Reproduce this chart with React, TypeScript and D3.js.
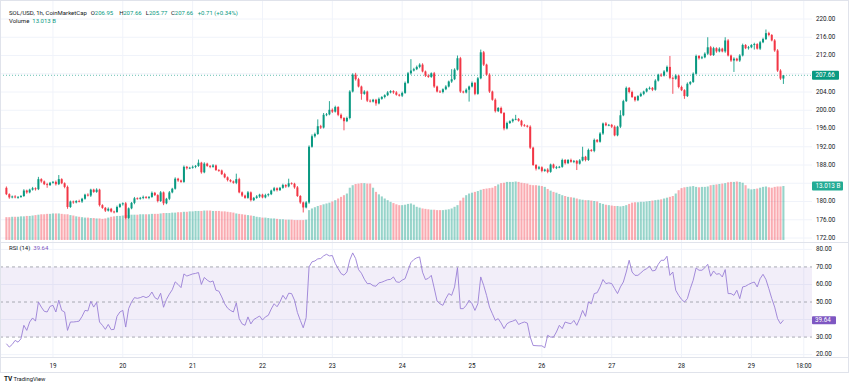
import React from 'react';
import * as d3 from 'd3';

// SOL/USD 1h candles, 18th 08:00 -> 29th 11:00
const firstOpen = 183.0;

const closes = [
  181.6, 180.9, 181.1, 180.9, 181.0, 181.2, 182.4, 182.0, 182.6, 182.9, 182.7, 184.9,
  184.4, 183.8, 183.6, 184.1, 184.3, 183.8, 184.9, 184.0, 183.2, 178.8, 180.0, 179.8,
  180.1, 180.0, 180.6, 181.5, 181.3, 182.6, 182.1, 182.6, 179.2, 178.6, 178.0, 178.4,
  177.8, 177.7, 178.8, 179.4, 179.6, 176.4, 178.5, 179.7, 180.7, 180.6, 180.8, 181.0,
  180.8, 181.0, 181.9, 181.4, 180.1, 182.0, 179.6, 180.6, 182.0, 182.8, 185.0, 184.6,
  184.3, 187.6, 187.3, 187.4, 187.6, 187.8, 188.5, 186.4, 188.3, 187.8, 187.6, 187.9,
  186.9, 186.8, 186.0, 185.3, 184.7, 184.4, 184.1, 184.9, 182.0, 181.3, 180.8, 182.0,
  180.3, 180.8, 181.1, 181.5, 180.9, 181.4, 181.6, 182.4, 182.9, 182.5, 183.0, 183.6,
  183.3, 184.0, 183.9, 183.1, 181.2, 179.8, 178.7, 179.8, 192.0, 194.3, 194.8, 196.5,
  196.2, 199.0, 199.1, 200.1, 199.7, 200.7, 199.0, 198.3, 197.6, 198.3, 204.1, 207.8,
  206.8, 205.2, 203.6, 204.1, 202.1, 201.9, 202.3, 201.5, 202.5, 202.9, 203.3, 203.9,
  204.2, 203.9, 203.4, 203.2, 203.8, 206.0, 208.1, 208.7, 209.0, 209.5, 210.0, 208.5,
  207.6, 207.3, 208.1, 205.2, 204.1, 204.0, 204.6, 205.2, 206.3, 206.8, 208.9, 211.4,
  204.1, 203.9, 204.5, 205.2, 206.0, 203.6, 207.0, 212.7, 210.0, 207.8, 204.1, 202.3,
  199.8, 200.5, 199.4, 196.0, 197.2, 197.6, 198.0, 198.1, 197.7, 196.7, 196.6, 196.4,
  191.8, 188.0, 187.2, 187.5, 186.7, 187.0, 186.5, 188.1, 187.4, 187.5, 187.6, 189.1,
  188.4, 189.1, 188.7, 188.9, 188.3, 189.0, 189.8, 189.1, 191.3, 191.1, 193.5, 193.1,
  194.9, 197.1, 196.7, 196.8, 196.4, 194.5, 196.4, 198.9, 202.0, 204.9, 204.0, 202.9,
  202.2, 203.1, 203.6, 204.1, 204.7, 204.9, 204.5, 206.5, 207.8, 207.6, 208.5, 209.5,
  207.1, 206.9, 207.6, 205.1, 204.4, 203.1, 205.8, 206.2, 208.0, 211.9, 211.4, 211.6,
  212.4, 213.8, 212.1, 213.6, 212.9, 213.5, 212.9, 215.3, 212.0, 210.9, 211.3, 210.9,
  212.0, 214.3, 213.6, 213.8, 214.3, 214.5, 213.5, 214.9, 215.6, 216.9, 216.5, 215.3,
  213.1, 208.7, 206.95, 207.66
];

// wick length above / below the body
const wickUp = [
  0.3, 0.2, 0.2, 0.3, 0.2, 0.2, 0.3, 0.2, 0.2, 0.3, 0.2, 0.5,
  0.2, 0.2, 0.3, 0.2, 0.2, 0.3, 0.9, 0.2, 0.2, 0.3, 0.2, 0.2,
  0.2, 0.3, 0.2, 0.2, 0.3, 0.2, 0.2, 0.3, 0.2, 0.2, 0.2, 0.3,
  0.2, 0.2, 0.3, 0.2, 0.2, 0.3, 0.2, 0.2, 0.3, 0.2, 0.2, 0.3,
  0.2, 0.2, 0.3, 0.2, 0.2, 0.3, 0.2, 0.2, 0.3, 0.2, 0.3, 0.2,
  0.2, 0.3, 0.2, 0.2, 0.3, 0.2, 0.7, 0.2, 0.3, 0.2, 0.2, 0.3,
  0.2, 0.2, 0.2, 0.3, 0.2, 0.2, 0.2, 1.2, 0.3, 0.2, 0.2, 0.3,
  0.2, 0.2, 0.3, 0.2, 0.2, 0.3, 0.2, 0.2, 0.3, 0.2, 0.2, 0.3,
  0.2, 1.0, 0.2, 0.2, 0.3, 0.2, 0.2, 0.3, 0.3, 0.4, 0.3, 1.5,
  0.3, 0.4, 0.3, 1.9, 0.3, 0.3, 0.2, 0.3, 0.2, 0.3, 0.3, 0.3,
  0.4, 0.3, 0.2, 0.3, 0.2, 0.3, 0.2, 0.2, 0.3, 0.2, 0.2, 0.3,
  0.2, 0.2, 0.3, 0.2, 0.3, 0.3, 0.3, 2.5, 0.3, 0.3, 0.3, 0.3,
  0.2, 0.3, 0.2, 0.3, 0.2, 0.3, 0.2, 0.3, 0.2, 2.2, 0.3, 0.6,
  0.3, 0.2, 0.3, 0.2, 0.3, 0.2, 0.3, 0.6, 0.3, 0.2, 0.3, 0.2,
  0.3, 0.2, 0.3, 0.2, 0.3, 0.2, 0.2, 0.9, 0.2, 0.2, 0.3, 0.2,
  0.3, 0.2, 0.2, 0.3, 0.2, 0.2, 0.3, 0.2, 0.2, 0.3, 0.2, 0.3,
  0.2, 0.2, 0.3, 0.2, 0.2, 0.3, 2.2, 0.2, 0.3, 0.2, 0.3, 0.2,
  0.3, 0.2, 0.3, 0.2, 0.2, 0.3, 0.2, 1.1, 0.3, 0.3, 0.2, 0.3,
  0.2, 0.2, 0.3, 0.2, 0.2, 0.3, 0.2, 0.3, 0.2, 0.3, 0.3, 0.3,
  2.4, 0.3, 0.3, 0.2, 0.3, 0.2, 0.3, 0.2, 0.3, 0.3, 0.2, 0.3,
  0.3, 2.2, 0.3, 0.3, 0.2, 0.3, 0.2, 0.7, 0.3, 0.2, 0.3, 0.2,
  0.3, 0.3, 0.2, 0.3, 0.2, 0.3, 0.2, 0.3, 0.3, 0.8, 0.3, 0.2,
  0.3, 0.3, 0.3, 0.0
];

const wickDown = [
  0.2, 0.3, 0.2, 0.2, 0.3, 0.2, 0.2, 0.3, 0.2, 0.2, 0.3, 0.2,
  0.3, 0.2, 0.6, 0.2, 0.2, 0.3, 0.2, 0.2, 0.3, 0.4, 0.2, 0.3,
  0.2, 0.2, 0.3, 0.2, 0.2, 0.3, 0.2, 0.2, 0.3, 0.2, 0.3, 0.2,
  0.2, 0.3, 0.2, 0.2, 0.3, 0.3, 0.2, 0.2, 0.3, 0.2, 0.2, 0.3,
  0.2, 0.3, 0.2, 0.2, 0.3, 0.2, 0.4, 0.2, 0.3, 0.2, 0.2, 0.3,
  0.2, 0.2, 0.3, 0.2, 0.2, 0.3, 0.2, 0.3, 0.2, 0.2, 0.3, 0.2,
  0.2, 0.3, 0.2, 0.2, 0.3, 0.2, 0.2, 0.3, 0.2, 0.3, 0.2, 0.2,
  0.3, 0.2, 0.2, 0.3, 0.2, 0.2, 0.3, 0.2, 0.2, 0.3, 0.2, 0.2,
  0.3, 0.2, 0.2, 0.3, 0.2, 0.3, 1.1, 0.2, 0.3, 0.2, 0.3, 0.2,
  0.3, 0.2, 0.3, 0.2, 0.3, 0.2, 0.3, 0.3, 2.0, 0.2, 0.3, 0.2,
  0.3, 0.2, 1.3, 0.2, 0.3, 0.2, 0.2, 0.5, 0.2, 0.2, 0.3, 0.2,
  0.2, 0.3, 0.2, 0.2, 0.3, 0.2, 0.2, 0.3, 0.2, 0.2, 0.3, 0.2,
  0.3, 0.2, 0.2, 0.3, 0.2, 0.2, 0.3, 0.2, 0.2, 0.3, 0.2, 0.2,
  0.3, 0.2, 0.2, 2.6, 0.2, 0.3, 0.2, 0.2, 0.3, 0.2, 0.3, 0.2,
  0.3, 0.2, 0.2, 0.4, 0.2, 0.2, 0.3, 0.2, 0.2, 0.3, 0.2, 0.2,
  0.3, 0.2, 0.4, 0.2, 0.3, 0.2, 0.3, 0.2, 0.2, 0.3, 0.2, 0.2,
  0.3, 0.2, 0.2, 0.3, 1.4, 0.2, 0.2, 0.3, 0.2, 0.2, 0.3, 0.2,
  0.2, 0.3, 0.2, 0.2, 0.3, 0.2, 0.2, 0.3, 0.2, 0.2, 0.3, 0.2,
  0.3, 0.2, 0.2, 0.3, 0.2, 0.2, 0.3, 0.2, 0.2, 0.3, 0.2, 0.2,
  0.3, 3.3, 0.2, 0.3, 0.2, 0.6, 0.2, 0.3, 0.2, 0.2, 0.3, 0.2,
  0.2, 0.3, 0.2, 0.2, 0.3, 0.2, 0.2, 0.3, 0.2, 0.3, 2.5, 0.2,
  0.3, 0.2, 0.2, 0.3, 0.2, 1.0, 0.2, 0.3, 0.2, 0.2, 0.3, 0.2,
  0.3, 0.3, 0.3, 1.18
];

// volume in billions
const volumes = [
  5.5, 5.5, 5.6, 5.6, 5.6, 5.7, 5.7, 5.8, 5.8, 5.9, 6.0, 6.1,
  6.2, 6.2, 6.3, 6.3, 6.4, 6.4, 6.4, 6.3, 6.2, 6.2, 6.0, 5.9,
  5.7, 5.6, 5.5, 5.4, 5.4, 5.3, 5.3, 5.2, 5.2, 5.1, 5.2, 5.4,
  5.6, 5.7, 5.8, 5.8, 5.9, 6.0, 6.0, 6.1, 6.1, 6.1, 6.2, 6.2,
  6.2, 6.2, 6.3, 6.3, 6.3, 6.4, 6.5, 6.5, 6.5, 6.6, 6.6, 6.7,
  6.7, 6.8, 6.8, 6.9, 6.9, 7.0, 7.0, 7.0, 7.1, 7.1, 7.1, 7.0,
  7.0, 7.0, 6.9, 6.9, 6.8, 6.7, 6.6, 6.4, 6.3, 6.2, 6.1, 6.0,
  5.9, 5.8, 5.6, 5.5, 5.4, 5.4, 5.3, 5.2, 5.2, 5.1, 5.0, 5.0,
  4.9, 4.9, 4.9, 4.8, 4.8, 4.8, 4.8, 4.9, 7.2, 7.6, 7.9, 8.2,
  8.4, 8.6, 8.8, 9.0, 9.3, 9.6, 10.0, 10.4, 10.8, 11.2, 12.6, 13.2,
  13.5, 13.6, 13.7, 13.7, 13.6, 13.6, 12.6, 11.6, 11.0, 10.5, 10.0, 9.6,
  9.2, 8.9, 8.6, 8.4, 8.4, 8.5, 8.7, 8.8, 8.5, 8.0, 7.8, 7.6,
  7.5, 7.4, 7.3, 7.3, 7.2, 7.2, 7.2, 7.3, 7.4, 7.6, 8.0, 8.4,
  9.5, 10.2, 10.8, 11.2, 11.4, 11.6, 11.8, 12.1, 12.3, 12.4, 12.5, 12.6,
  13.0, 13.4, 13.7, 13.8, 14.0, 14.0, 14.0, 14.1, 14.0, 13.8, 13.7, 13.6,
  13.3, 13.2, 13.2, 13.1, 13.0, 12.8, 12.3, 11.9, 11.6, 11.4, 11.1, 10.8,
  10.6, 10.4, 10.3, 10.2, 10.0, 9.8, 9.7, 9.6, 9.6, 9.5, 9.4, 9.3,
  8.9, 8.7, 8.5, 8.4, 8.3, 8.2, 8.2, 8.1, 8.2, 8.4, 8.7, 9.0,
  9.1, 9.1, 9.2, 9.2, 9.3, 9.4, 9.5, 9.6, 9.7, 9.8, 10.0, 10.2,
  10.4, 10.6, 11.2, 12.0, 12.5, 12.7, 12.8, 12.9, 13.0, 12.8, 12.7, 12.8,
  12.8, 12.9, 13.2, 13.3, 13.4, 13.5, 13.6, 13.7, 13.9, 14.0, 14.0, 14.1,
  14.0, 13.8, 13.2, 12.4, 12.2, 12.3, 12.4, 12.6, 12.8, 12.9, 12.7, 12.6,
  12.8, 12.9, 12.9, 13.013
];

const rsiValues = [
  26.2, 24.3, 25.8, 28.1, 27.1, 29.0, 36.7, 33.8, 38.6, 40.9, 39.1, 50.0,
  47.1, 44.7, 44.3, 47.5, 48.1, 44.3, 51.0, 45.2, 44.3, 33.8, 38.6, 38.6,
  38.8, 39.1, 41.8, 45.2, 44.9, 50.4, 47.1, 49.8, 38.6, 36.7, 34.4, 37.2,
  34.2, 34.4, 41.8, 44.3, 45.2, 35.7, 46.2, 50.0, 52.5, 52.1, 52.5, 53.2,
  52.5, 53.2, 55.7, 52.5, 51.5, 55.0, 47.0, 51.5, 54.5, 57.0, 61.5, 60.0,
  58.2, 66.0, 64.8, 65.4, 66.0, 66.3, 66.8, 60.0, 64.0, 62.5, 61.4, 62.0,
  56.7, 56.2, 52.9, 49.0, 46.5, 45.2, 44.3, 49.5, 40.5, 37.5, 36.7, 41.5,
  37.5, 40.0, 41.0, 42.0, 39.7, 41.5, 42.4, 46.0, 49.0, 47.3, 50.0, 53.8,
  51.5, 55.0, 54.8, 51.0, 44.0, 39.5, 35.3, 41.0, 70.0, 72.9, 73.4, 74.6,
  74.8, 76.3, 77.2, 76.3, 76.5, 72.0, 69.0, 66.2, 65.3, 67.1, 74.0, 78.0,
  74.8, 68.5, 66.4, 63.0, 60.5, 60.5, 59.3, 59.0, 60.9, 61.3, 62.0, 62.7,
  62.9, 64.3, 61.5, 61.2, 62.5, 63.3, 68.0, 72.5, 74.2, 75.2, 75.7, 67.0,
  62.8, 63.5, 65.2, 58.0, 50.5, 49.0, 48.1, 51.9, 54.8, 53.8, 58.6, 69.6,
  46.2, 46.2, 48.1, 51.0, 49.0, 45.2, 49.0, 64.3, 59.5, 53.8, 47.1, 43.3,
  39.5, 40.5, 38.0, 34.8, 37.6, 38.6, 39.1, 39.9, 37.2, 38.0, 38.6, 38.0,
  30.0, 25.2, 25.1, 25.0, 25.0, 23.9, 31.0, 30.0, 30.0, 32.9, 36.7, 34.8,
  38.6, 38.0, 37.6, 39.5, 36.7, 40.5, 45.2, 41.8, 50.0, 49.0, 54.8, 55.3,
  58.6, 62.8, 60.5, 60.9, 60.5, 57.6, 54.8, 58.6, 61.4, 67.1, 73.8, 67.1,
  65.2, 65.2, 66.6, 68.1, 69.0, 70.4, 67.7, 68.1, 71.5, 73.8, 73.8, 76.1,
  65.2, 67.1, 56.7, 53.8, 51.5, 50.0, 51.9, 57.6, 62.4, 69.4, 68.1, 68.1,
  69.5, 71.5, 64.7, 67.7, 65.8, 66.2, 64.3, 68.5, 54.8, 54.8, 53.8, 56.7,
  51.9, 58.6, 59.0, 60.0, 60.8, 61.4, 58.6, 63.3, 65.8, 62.8, 57.6, 52.0,
  47.1, 40.5, 37.6, 39.64
];

const priceGrid = [220, 216, 212, 208, 204, 200, 196, 192, 188, 184, 180, 176, 172];
const priceLabels = [220, 216, 212, 204, 200, 196, 192, 188, 180, 176, 172];
const rsiGrid = [80, 60, 40, 20];
const rsiLevels = [70, 50, 30];
const rsiLabels = [80, 70, 60, 50, 30, 20];
const dayLabels = ['19', '20', '21', '22', '23', '24', '25', '26', '27', '28', '29'];

const GREEN = '#089981';
const RED = '#f23645';
const PURPLE = '#7e57c2';
const GRID = '#f0f3fa';
const TEXT = '#131722';
const FONT = 'Roboto, "Liberation Sans", Arial, sans-serif';

const plotRight = 812;
const mainBottom = 242;
const rsiBottom = 357;

const App: React.FC = () => {
  const times = closes.map((_, i) => new Date(Date.UTC(2024, 6, 18, 8 + i)));
  const x = d3.scaleTime().domain([times[0], times[times.length - 1]]).range([6.4, 783.4]);
  const y = d3.scaleLinear().domain([172, 220]).range([238, 19]);
  const yVol = d3.scaleLinear().domain([0, 14.46]).range([240, 180]);
  const yRsi = d3.scaleLinear().domain([20, 80]).range([354.6, 249.4]);

  const candles = closes.map((c, i) => {
    const o = i === 0 ? firstOpen : closes[i - 1];
    return {
      t: times[i], o, c,
      h: Math.max(o, c) + wickUp[i],
      l: Math.min(o, c) - wickDown[i],
      v: volumes[i],
      up: c >= o
    };
  });

  const rsiPath = d3.line<number>()
    .x((_, i) => x(times[i]))
    .y(d => yRsi(d))(rsiValues) || '';

  const dayTicks = dayLabels.map(d => new Date(Date.UTC(2024, 6, +d, 0)));
  const timeTick = new Date(Date.UTC(2024, 6, 29, 18));
  const lastClose = closes[closes.length - 1];
  const lastVol = volumes[volumes.length - 1];
  const lastRsi = rsiValues[rsiValues.length - 1];

  return (
    <svg width={850} height={388} style={{ position: 'absolute', left: 0, top: 0, background: '#fff' }}
      fontFamily={FONT}>
      <defs>
        <clipPath id="mainClip"><rect x={0} y={0} width={plotRight} height={mainBottom} /></clipPath>
        <clipPath id="rsiClip"><rect x={0} y={mainBottom} width={plotRight} height={rsiBottom - mainBottom} /></clipPath>
      </defs>

      {/* grid */}
      {priceGrid.map(p => (
        <line key={'pg' + p} x1={0} x2={plotRight} y1={y(p)} y2={y(p)} stroke={GRID} />
      ))}
      {rsiGrid.map(p => (
        <line key={'rg' + p} x1={0} x2={plotRight} y1={yRsi(p)} y2={yRsi(p)} stroke={GRID} />
      ))}
      {[...dayTicks, timeTick].map((t, i) => (
        <line key={'vg' + i} x1={x(t)} x2={x(t)} y1={0} y2={rsiBottom} stroke={GRID} />
      ))}

      {/* main pane */}
      <g clipPath="url(#mainClip)">
        {candles.map((d, i) => (
          <rect key={'v' + i} x={x(d.t) - 1.05} width={2.1} y={yVol(d.v)} height={yVol(0) - yVol(d.v)}
            fill={d.up ? GREEN : RED} fillOpacity={0.42} />
        ))}
        <line x1={0} x2={plotRight} y1={y(lastClose)} y2={y(lastClose)} stroke={GREEN}
          strokeDasharray="1,2" strokeOpacity={0.6} />
        {candles.map((d, i) => {
          const col = d.up ? GREEN : RED;
          const top = y(Math.max(d.o, d.c));
          const bot = y(Math.min(d.o, d.c));
          return (
            <g key={'c' + i}>
              <rect x={x(d.t) - 0.5} width={1} y={y(d.h)} height={y(d.l) - y(d.h)} fill={col} fillOpacity={0.85} />
              <rect x={x(d.t) - 1} width={2} y={top} height={Math.max(0.8, bot - top)} fill={col} />
            </g>
          );
        })}
      </g>

      {/* rsi pane */}
      <g clipPath="url(#rsiClip)">
        <rect x={0} width={plotRight} y={yRsi(70)} height={yRsi(30) - yRsi(70)} fill={PURPLE} fillOpacity={0.1} />
        {rsiLevels.map(l => (
          <line key={'rl' + l} x1={0} x2={plotRight} y1={yRsi(l)} y2={yRsi(l)} stroke="#9598a1"
            strokeDasharray="3,3" strokeWidth={0.8} />
        ))}
        <path d={rsiPath} fill="none" stroke="#9a7fd6" strokeWidth={0.9} />
      </g>

      {/* frames */}
      <line x1={0} x2={849} y1={mainBottom + 0.5} y2={mainBottom + 0.5} stroke="#e0e3eb" />
      <line x1={0} x2={849} y1={rsiBottom + 0.5} y2={rsiBottom + 0.5} stroke="#e0e3eb" />
      <rect x={0.5} y={0.5} width={848} height={372} fill="none" stroke="#e0e3eb" />

      {/* price axis */}
      {priceLabels.map(p => (
        <text key={'pl' + p} x={816} y={y(p)} dy="0.3em" fontSize={6.3} fill={TEXT}>{p.toFixed(2)}</text>
      ))}
      <rect x={812} y={y(lastClose) - 4.5} width={27} height={9} fill={GREEN} rx={1} />
      <text x={815.5} y={y(lastClose)} dy="0.33em" fontSize={6.3} fill="#fff">{lastClose.toFixed(2)}</text>
      <rect x={812} y={yVol(lastVol) - 4.5} width={31} height={9} fill="#22ab94" rx={1} />
      <text x={815.5} y={yVol(lastVol)} dy="0.33em" fontSize={6.3} fill="#fff">{lastVol.toFixed(3) + ' B'}</text>

      {rsiLabels.map(p => (
        <text key={'rl' + p} x={816} y={yRsi(p)} dy="0.3em" fontSize={6.3} fill={TEXT}>{p.toFixed(2)}</text>
      ))}
      <rect x={812} y={yRsi(lastRsi) - 4} width={24} height={8} fill={PURPLE} rx={1} />
      <text x={815} y={yRsi(lastRsi)} dy="0.33em" fontSize={6.3} fill="#fff">{lastRsi.toFixed(2)}</text>

      {/* time axis */}
      {dayTicks.map((t, i) => (
        <text key={'dl' + i} x={x(t)} y={366} dy="0.3em" textAnchor="middle" fontSize={6.3} fill={TEXT}>{dayLabels[i]}</text>
      ))}
      <text x={x(timeTick)} y={366} dy="0.3em" textAnchor="middle" fontSize={6.3} fill={TEXT}>18:00</text>

      {/* legends */}
      <g fontSize={6}>
        <text x={9} y={14.5} fill={TEXT}>SOL/USD, 1h, CoinMarketCap</text>
        <text x={90.7} y={14.5} fill={TEXT}>O</text>
        <text x={94.8} y={14.5} fill={GREEN}>206.95</text>
        <text x={119.3} y={14.5} fill={TEXT}>H</text>
        <text x={123.2} y={14.5} fill={GREEN}>207.66</text>
        <text x={145.7} y={14.5} fill={TEXT}>L</text>
        <text x={149} y={14.5} fill={GREEN}>205.77</text>
        <text x={171} y={14.5} fill={TEXT}>C</text>
        <text x={174.8} y={14.5} fill={GREEN}>207.66</text>
        <text x={197.7} y={14.5} fill={GREEN}>+0.71 (+0.34%)</text>
        <text x={9} y={23} fill={TEXT}>Volume</text>
        <text x={32.3} y={23} fill={GREEN}>13.013 B</text>
        <text x={9} y={249.5} fill={TEXT}>RSI (14)</text>
        <text x={33.3} y={249.5} fill={PURPLE}>39.64</text>
      </g>

      <text x={4} y={381} fontSize={6.5} fontWeight="bold" fill={TEXT}>TV</text>
      <text x={13.5} y={381} fontSize={5.8} fill={TEXT}>TradingView</text>
    </svg>
  );
};

export default App;
